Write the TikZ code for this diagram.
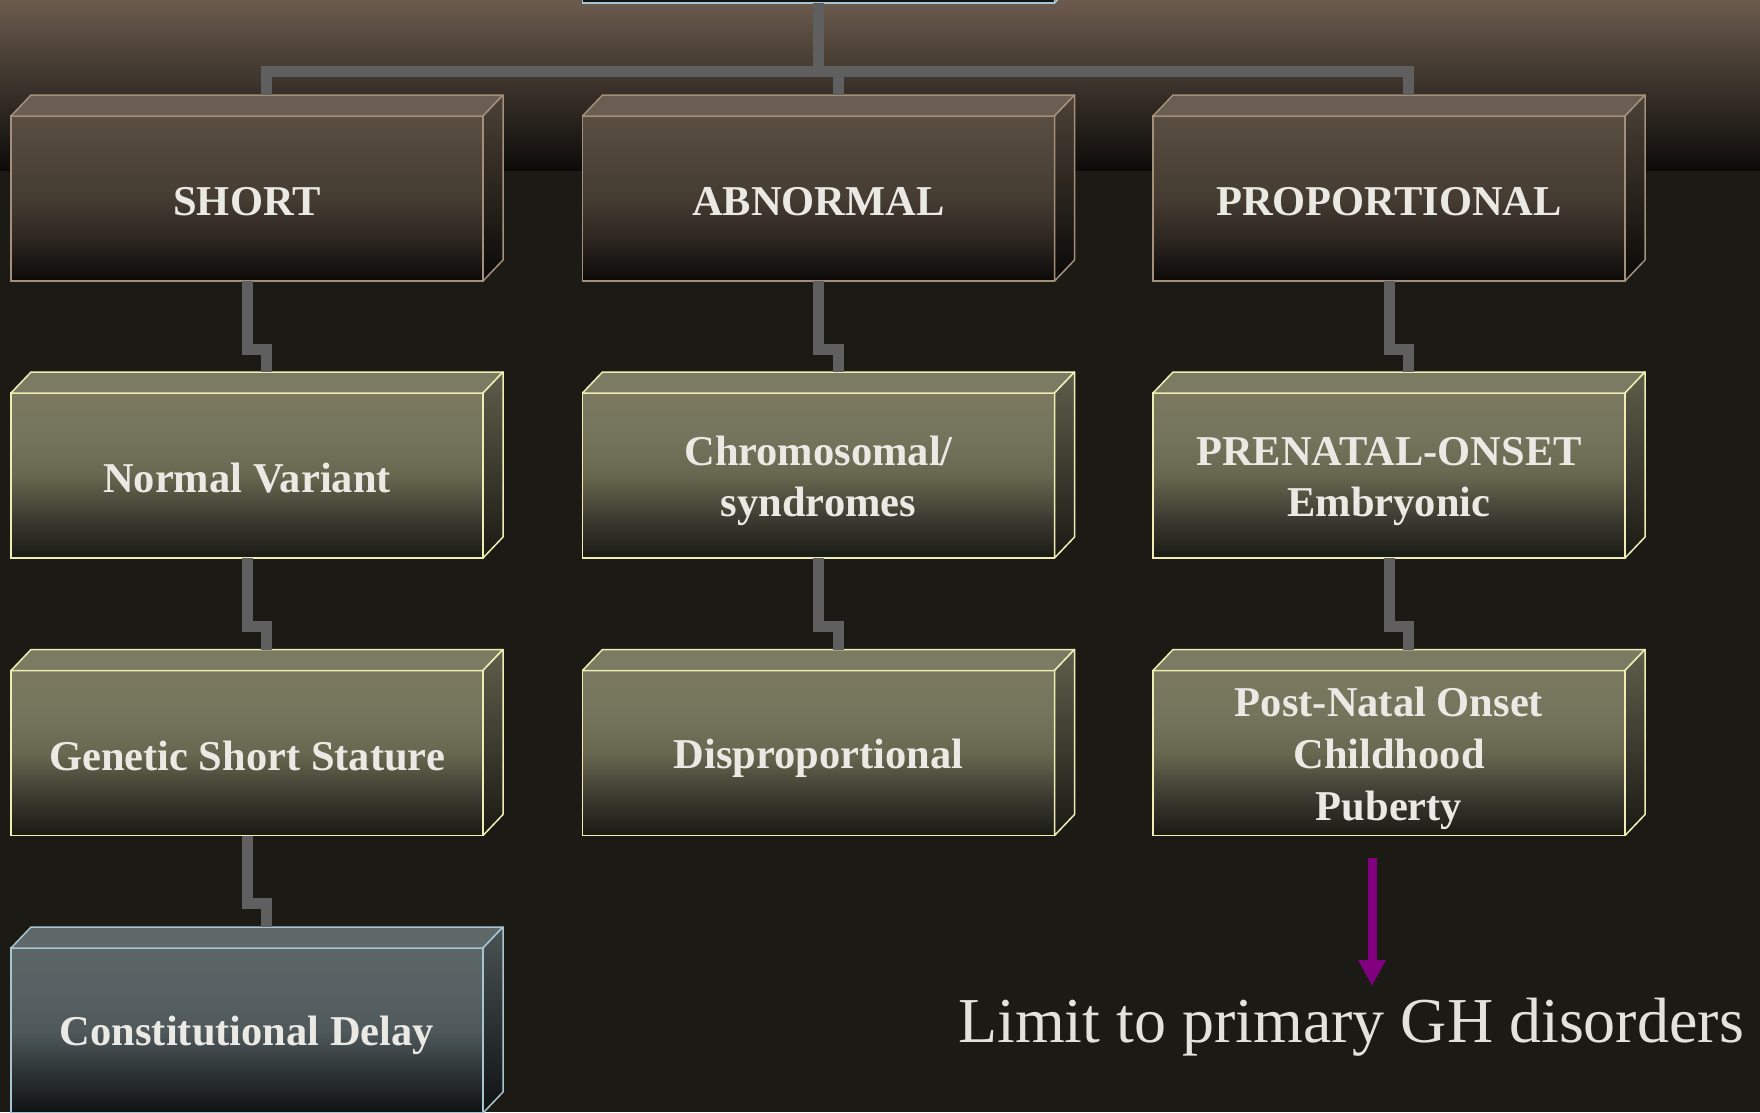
\documentclass[tikz,border=0pt]{standalone}
\usepackage{fontspec}
\setmainfont{Liberation Serif}
\usetikzlibrary{arrows.meta}
\definecolor{bgdark}{HTML}{1C1A15}
\definecolor{bandtop}{HTML}{6B5B4D}
\definecolor{bandmid}{HTML}{3A3129}
\definecolor{bandbot}{HTML}{0C0B09}
\definecolor{conncol}{HTML}{5F5F5F}
\definecolor{txtcol}{HTML}{EBE9E4}
\definecolor{limitcol}{HTML}{E4E2DC}
\definecolor{arrowcol}{HTML}{800080}
% brown
\definecolor{brA}{HTML}{0B0908}
\definecolor{brB}{HTML}{2E2721}
\definecolor{brC}{HTML}{453C32}
\definecolor{brD}{HTML}{5A4E42}
\definecolor{brTop}{HTML}{6A5E52}
\definecolor{brSideT}{HTML}{4C4237}
\definecolor{brSideB}{HTML}{0A0907}
\definecolor{brLine}{HTML}{A38F7A}
% olive
\definecolor{olA}{HTML}{1A1A15}
\definecolor{olB}{HTML}{3C3B31}
\definecolor{olC}{HTML}{68674F}
\definecolor{olD}{HTML}{75745C}
\definecolor{olE}{HTML}{7A7960}
\definecolor{olTop}{HTML}{7B7A62}
\definecolor{olSideT}{HTML}{5F5E4B}
\definecolor{olSideB}{HTML}{1A1A15}
\definecolor{olLine}{HTML}{EEEEB4}
% blue grey
\definecolor{blA}{HTML}{0F1213}
\definecolor{blB}{HTML}{2C3234}
\definecolor{blC}{HTML}{4F595B}
\definecolor{blD}{HTML}{576163}
\definecolor{blE}{HTML}{5B6667}
\definecolor{blTop}{HTML}{5F6868}
\definecolor{blSideT}{HTML}{4A5354}
\definecolor{blSideB}{HTML}{0F1213}
\definecolor{blLine}{HTML}{A8C4D0}
\pgfdeclareverticalshading{brownfront}{100bp}{color(0bp)=(brA); color(25bp)=(brA); color(38bp)=(brB); color(50bp)=(brC); color(75bp)=(brD); color(100bp)=(brD)}
\pgfdeclareverticalshading{olivefront}{100bp}{color(0bp)=(olA); color(25bp)=(olA); color(37bp)=(olB); color(50bp)=(olC); color(62bp)=(olD); color(75bp)=(olE); color(100bp)=(olE)}
\pgfdeclareverticalshading{bluefront}{100bp}{color(0bp)=(blA); color(25bp)=(blA); color(37bp)=(blB); color(50bp)=(blC); color(62bp)=(blD); color(75bp)=(blE); color(100bp)=(blE)}
\newcommand\cubefaces[5]{%
  \filldraw[fill=#2, draw=#5, line width=1.5pt, line join=round] (#1.north west) -- ++(20,-21) -- ++(472,0) -- (#1.north east) -- cycle;
  \shadedraw[top color=#3, bottom color=#4, draw=#5, line width=1.5pt, line join=round] (#1.north east) -- ++(20,-21) -- ++(0,165) -- (#1.south east) -- cycle;
}
\newcommand\firstln{\rule{0pt}{40pt}}
\newcommand\lastln{\rule[-6pt]{0pt}{6pt}}
\tikzset{
  cube/.style={rectangle, inner sep=0pt, outer sep=0pt, minimum width=472pt, minimum height=165pt, align=center, text=txtcol, font=\fontsize{42.5}{51.6}\selectfont\bfseries, line width=1.5pt, shade},
  brownbox/.style={cube, shading=brownfront, draw=brLine},
  olivebox/.style={cube, shading=olivefront, draw=olLine},
  bluebox/.style={cube, shading=bluefront, draw=blLine},
  conn/.style={draw=conncol, line width=11pt, line join=miter},
  limittext/.style={inner sep=0pt, font=\fontsize{64}{70}\selectfont, text=limitcol, anchor=base},
  purplearrow/.style={draw=arrowcol, line width=9pt, -{Triangle[width=26pt,length=26pt]}}
}
\begin{document}
\begin{tikzpicture}[x=1pt, y=-1pt]
\useasboundingbox (0,0) rectangle (1760,1112);
\clip (0,0) rectangle (1760,1112);
\fill[bgdark] (0,0) rectangle (1760,1112);
\shade[top color=bandtop, middle color=bandmid, bottom color=bandbot] (0,0) rectangle (1760,170);
% boxes
\node[bluebox] (root) at (818.5,-79.5) {};
\node[brownbox] (short) at (247,198.5) {\firstln SHORT\lastln};
\node[brownbox] (abn) at (818.5,198.5) {\firstln ABNORMAL\lastln};
\node[brownbox] (prop) at (1389,198.5) {\firstln PROPORTIONAL\lastln};
\node[olivebox] (normal) at (247,475.5) {\firstln Normal Variant\lastln};
\node[olivebox] (chrom) at (818.5,475.5) {\firstln Chromosomal/\\syndromes\lastln};
\node[olivebox] (prenatal) at (1389,475.5) {\firstln PRENATAL-ONSET\\Embryonic\lastln};
\node[olivebox] (genetic) at (247,753) {\firstln Genetic Short Stature\lastln};
\node[olivebox] (disprop) at (818.5,753) {\firstln Disproportional\lastln};
\node[olivebox] (postnatal) at (1389,753) {\firstln Post-Natal Onset\\Childhood\\Puberty\lastln};
\node[bluebox] (constit) at (247,1030.5) {\firstln Constitutional Delay\lastln};
\cubefaces{root}{blTop}{blSideT}{blSideB}{blLine}
\cubefaces{short}{brTop}{brSideT}{brSideB}{brLine}
\cubefaces{abn}{brTop}{brSideT}{brSideB}{brLine}
\cubefaces{prop}{brTop}{brSideT}{brSideB}{brLine}
\cubefaces{normal}{olTop}{olSideT}{olSideB}{olLine}
\cubefaces{chrom}{olTop}{olSideT}{olSideB}{olLine}
\cubefaces{prenatal}{olTop}{olSideT}{olSideB}{olLine}
\cubefaces{genetic}{olTop}{olSideT}{olSideB}{olLine}
\cubefaces{disprop}{olTop}{olSideT}{olSideB}{olLine}
\cubefaces{postnatal}{olTop}{olSideT}{olSideB}{olLine}
\cubefaces{constit}{blTop}{blSideT}{blSideB}{blLine}
% connectors
\draw[conn] (root.south) -- ++(0,68) -| ([shift={(19.5,-21)}]short.north);
\draw[conn] (root.south) -- ++(0,68) -| ([shift={(19.5,-21)}]abn.north);
\draw[conn] (root.south) -- ++(0,68) -| ([shift={(19.5,-21)}]prop.north);
\draw[conn] (short.south) -- ++(0,68) -| ([shift={(19.5,-21)}]normal.north);
\draw[conn] (normal.south) -- ++(0,68) -| ([shift={(19.5,-21)}]genetic.north);
\draw[conn] (genetic.south) -- ++(0,68) -| ([shift={(19.5,-21)}]constit.north);
\draw[conn] (abn.south) -- ++(0,68) -| ([shift={(19.5,-21)}]chrom.north);
\draw[conn] (chrom.south) -- ++(0,68) -| ([shift={(19.5,-21)}]disprop.north);
\draw[conn] (prop.south) -- ++(0,68) -| ([shift={(19.5,-21)}]prenatal.north);
\draw[conn] (prenatal.south) -- ++(0,68) -| ([shift={(19.5,-21)}]postnatal.north);
% note
\node[limittext] (limit) at (1351,1042) {Limit to primary GH disorders};
\coordinate (arrS) at (1372,858);
\coordinate (arrE) at (1372,986);
\draw[purplearrow] (arrS) -- (arrE);
\end{tikzpicture}
\end{document}
